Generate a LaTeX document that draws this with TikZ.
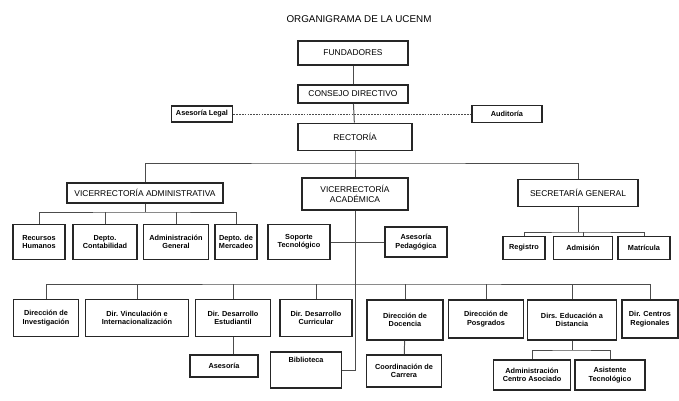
\documentclass[tikz,border=0pt]{standalone}
\usepackage{fontspec}
\setmainfont{Liberation Sans}
\usetikzlibrary{calc}

\tikzset{
  unit/.style={draw=black!85, line width=1.4pt, fill=white, align=center,
    inner sep=1pt, font=\fontsize{5.2}{6}\selectfont\bfseries},
  head/.style={unit, font=\fontsize{6}{7}\selectfont},
  wd/.style={minimum width=#1*0.025cm},
  ht/.style={minimum height=#1*0.025cm},
  link/.style={draw=black!70, line width=0.7pt},
  advice/.style={link, dash pattern=on 1.2pt off 0.8pt}
}

\begin{document}
\begin{tikzpicture}[x=0.025cm, y=-0.025cm]
\useasboundingbox (0,0) rectangle (679,401);

\node[font=\fontsize{7}{8}\selectfont] (title) at (359,19) {ORGANIGRAMA DE LA UCENM};

% upper levels
\node[head, wd=110, ht=24] (fund) at (353,53) {FUNDADORES};
\node[head, wd=110, ht=18] (cons) at (353,94) {CONSEJO DIRECTIVO};
\node[unit, wd=61, ht=16] (legal) at (202,114) {Asesoría Legal};
\node[unit, wd=70, ht=17] (audit) at (507,114) {Auditoría};
\node[head, wd=114, ht=27] (rect) at (355,137) {RECTORÍA};

\node[head, wd=156, ht=20] (vadm) at (145,193) {VICERRECTORÍA ADMINISTRATIVA};
\node[head, wd=106, ht=32] (vaca) at (355,194) {VICERRECTORÍA\\ACADÉMICA};
\node[head, wd=120, ht=27] (sgen) at (578,193) {SECRETARÍA GENERAL};

% administrativa
\node[unit, wd=52, ht=35] (rrhh) at (39,242) {Recursos\\Humanos};
\node[unit, wd=64, ht=35] (cont) at (105,242) {Depto.\\Contabilidad};
\node[unit, wd=65, ht=35] (admg) at (176,242) {Administración\\General};
\node[unit, wd=42, ht=35] (merc) at (236,242) {Depto. de\\Mercadeo};

% academica
\node[unit, wd=62, ht=35] (sop) at (299,242) {Soporte\\Tecnológico};
\node[unit, wd=62, ht=30] (ped) at (416,242) {Asesoría\\Pedagógica};

% secretaria
\node[unit, wd=42, ht=23] (reg) at (524,248) {Registro};
\node[unit, wd=59, ht=23] (adm) at (583,248) {Admisión};
\node[unit, wd=52, ht=23] (mat) at (644,248) {Matrícula};

% direcciones
\node[unit, wd=65, ht=37] (inv) at (46,318) {Dirección de\\Investigación};
\node[unit, wd=103, ht=37] (vinc) at (137,318) {Dir. Vinculación e\\Internacionalización};
\node[unit, wd=75, ht=37] (dest) at (233,318) {Dir. Desarrollo\\Estudiantil};
\node[unit, wd=72, ht=37] (dcur) at (316,318) {Dir. Desarrollo\\Curricular};
\node[unit, wd=76, ht=40] (doc) at (405,320) {Dirección de\\Docencia};
\node[unit, wd=75, ht=38] (pos) at (486,319) {Dirección de\\Posgrados};
\node[unit, wd=89, ht=40] (dist) at (572,320) {Dirs. Educación a\\Distancia};
\node[unit, wd=56, ht=38] (creg) at (650,319) {Dir. Centros\\Regionales};

% last row
\node[unit, wd=68, ht=22] (ases) at (224,366) {Asesoría};
\node[unit, wd=71, ht=36] (bib) at (306,370) {Biblioteca\\[9pt]};
\node[unit, wd=75, ht=32] (coord) at (404,371) {Coordinación de\\Carrera};
\node[unit, wd=77, ht=30] (aca) at (532,375) {Administración\\Centro Asociado};
\node[unit, wd=70, ht=30] (ast) at (610,375) {Asistente\\Tecnológico};

\coordinate (busTop) at (355,163);
\coordinate (busVA) at (145,212);
\coordinate (busSG) at (578,232);
\coordinate (busLow) at (355,284);
\coordinate (busED) at (572,350);

\draw[link] (fund) -- (cons);
\draw[link] (cons) -- (rect);
\draw[advice] (legal) -- (audit);% staff line

\draw[link] (rect) -- (busTop) -- (vaca);
\draw[link] (vadm.north) |- (busTop) -| (sgen.north);

\draw[link] (vadm) -- (busVA);
\draw[link] (rrhh.north) |- (busVA) -| (merc.north);
\foreach \n in {cont,admg}
  \draw[link] (\n.north) -- (\n.north |- busVA);

\draw[link] (sop) -- (ped);
\draw[link] (vaca.south) |- (bib.east);

\draw[link] (sgen) -- (busSG);
\draw[link] (reg.north) |- (busSG) -| (mat.north);
\draw[link] (adm.north) -- (adm.north |- busSG);

\draw[link] (inv.north) |- (busLow) -| (creg.north);
\foreach \n in {vinc,dest,dcur,doc,pos,dist}
  \draw[link] (\n.north) -- (\n.north |- busLow);

\draw[link] (dest.south) -- (dest.south |- ases.north);
\draw[link] (doc) -- (coord);
\draw[link] (dist) -- (busED);
\draw[link] (aca.north) |- (busED) -| (ast.north);
\end{tikzpicture}
\end{document}
